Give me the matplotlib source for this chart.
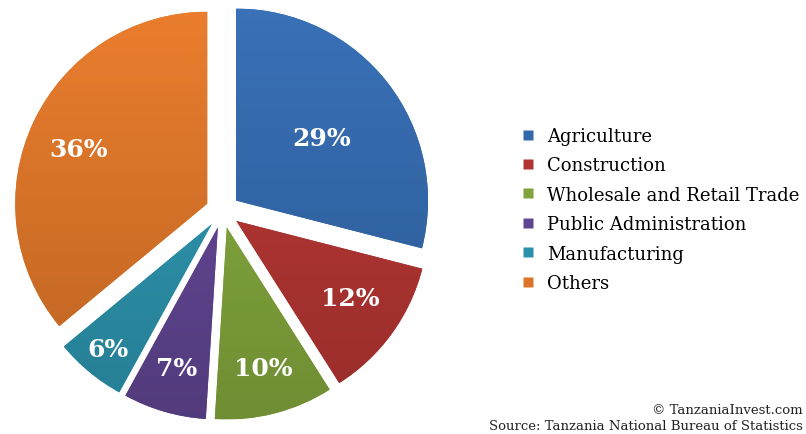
import numpy as np
import matplotlib
matplotlib.use("Agg")
import matplotlib.pyplot as plt
from matplotlib.lines import Line2D
from matplotlib.colors import to_rgb

categories = ["Agriculture", "Construction", "Wholesale and Retail Trade",
              "Public Administration", "Manufacturing", "Others"]
shares = [29, 12, 10, 7, 6, 36]
colors = ["#3368ab", "#b03431", "#80a33b", "#5f4490", "#2b91aa", "#db7428"]
label_dist = [0.552, 0.718, 0.756, 0.765, 0.846, 0.726]
label_turn = [-1.5, 2.0, 0.0, 0.0, 0.0, 2.0]

W, H = 806, 435
fig = plt.figure(figsize=(W / 100, H / 100), dpi=100)
ax = fig.add_axes([0, 0, 1, 1])

R = 192
cx, cy = 222.6, H - 212
explode = [17] * len(shares)

wedges, _ = ax.pie(shares, colors=colors, startangle=90, counterclock=False,
                   radius=R, center=(cx, cy), explode=explode,
                   wedgeprops=dict(linewidth=0), frame=True)
ax.set_xlim(0, W)
ax.set_ylim(0, H)
ax.set_aspect("equal")
ax.axis("off")

# vertical gradient shading inside each wedge
for w, c in zip(wedges, colors):
    base = np.array(to_rgb(c))
    top = np.clip(base * 1.05 + 0.015, 0, 1)
    bot = base * 0.87
    x0w, y0w = w.center
    ext = [x0w - R, x0w + R, y0w - R, y0w + R]
    t = np.linspace(0, 1, 256)[:, None]
    img = (bot[None, :] * (1 - t) + top[None, :] * t)[:, None, :]
    im = ax.imshow(img, extent=ext, origin="lower", aspect="auto",
                   interpolation="bilinear", zorder=w.get_zorder() + 0.1)
    im.set_clip_path(w)

for w, v, d, tr in zip(wedges, shares, label_dist, label_turn):
    mid = np.deg2rad((w.theta1 + w.theta2) / 2 + tr)
    x0, y0 = w.center
    ax.text(x0 + d * R * np.cos(mid), y0 + d * R * np.sin(mid), f"{v}%",
            ha="center", va="center", color="white", fontsize=18,
            fontweight="bold", family="DejaVu Serif", zorder=5)

ax.set_xlim(0, W)
ax.set_ylim(0, H)

handles = [Line2D([], [], marker="s", linestyle="none", markersize=7,
                  markerfacecolor=c, markeredgecolor="none") for c in colors]
leg = fig.legend(handles, categories, loc="upper left",
                 bbox_to_anchor=(521 / W, 1 - 128 / H), frameon=False,
                 prop=dict(family="DejaVu Serif", size=13),
                 handlelength=0.8, handletextpad=0.65, labelspacing=0.63,
                 borderpad=0, borderaxespad=0)

fig.text(803 / W, 1 - 411 / H, "\u00a9 TanzaniaInvest.com", ha="right",
         va="center", fontsize=9.5, family="DejaVu Serif", color="#222222")
fig.text(803 / W, 1 - 427 / H, "Source: Tanzania National Bureau of Statistics",
         ha="right", va="center", fontsize=9.5, family="DejaVu Serif",
         color="#222222")

fig.savefig("out.png", dpi=100)
